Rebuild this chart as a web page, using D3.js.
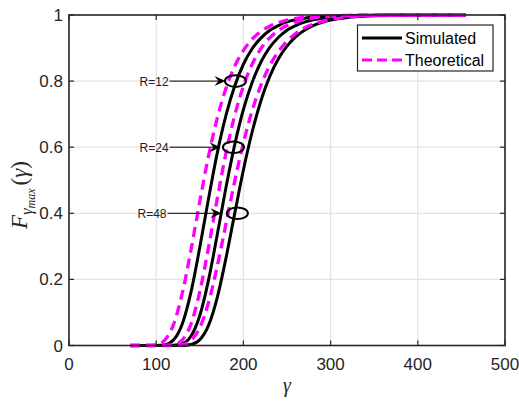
<!DOCTYPE html>
<html>
<head>
<meta charset="utf-8">
<script src="https://cdn.jsdelivr.net/npm/d3@7"></script>
<style>
  body { margin: 0; background: #fff; }
  svg { display: block; }
</style>
</head>
<body>
<div id="chart"></div>
<script>
let width = 519;
let height = 404;

// gamma grid shared by all curves
let gamma = [70, 80, 90, 100, 110, 120, 130, 140, 150, 160, 170, 180, 190, 200, 210, 220, 230, 240,
  250, 260, 270, 280, 300, 320, 340, 370, 400, 430, 455];

// CDF values
let sim12 = [0, 0, 0, 0.0001, 0.0023, 0.0171, 0.066, 0.163, 0.297, 0.444, 0.582, 0.696, 0.785, 0.851,
  0.898, 0.930, 0.953, 0.968, 0.979, 0.9857, 0.9904, 0.9936, 0.9971, 0.9987, 0.9994, 0.9998, 1, 1, 1];
let theo12 = [0, 0, 0.0001, 0.0023, 0.0169, 0.0646, 0.159, 0.291, 0.436, 0.573, 0.688, 0.778, 0.845, 0.893,
  0.927, 0.950, 0.966, 0.977, 0.9847, 0.9897, 0.9931, 0.9953, 0.9979, 0.9991, 0.9996, 0.9999, 1, 1, 1];
let sim24 = [0, 0, 0, 0, 0, 0.0004, 0.0052, 0.0287, 0.0909, 0.198, 0.335, 0.478, 0.607, 0.714,
  0.796, 0.857, 0.901, 0.932, 0.954, 0.968, 0.9785, 0.9855, 0.9933, 0.997, 0.9986, 0.9996, 0.9999, 1, 1];
let theo24 = [0, 0, 0, 0, 0.0001, 0.0023, 0.0171, 0.066, 0.163, 0.297, 0.444, 0.582, 0.696, 0.785,
  0.851, 0.898, 0.930, 0.953, 0.968, 0.979, 0.9857, 0.9904, 0.9957, 0.9981, 0.9992, 0.9998, 1, 1, 1];
let sim48 = [0, 0, 0, 0, 0, 0, 0.0002, 0.0028, 0.0172, 0.0608, 0.145, 0.264, 0.399, 0.531,
  0.646, 0.740, 0.813, 0.867, 0.906, 0.934, 0.954, 0.968, 0.9847, 0.9927, 0.9965, 0.9989, 0.9996, 0.9999, 1];
let theo48 = [0, 0, 0, 0, 0, 0.0002, 0.0026, 0.0154, 0.054, 0.130, 0.240, 0.368, 0.497, 0.613,
  0.710, 0.787, 0.846, 0.889, 0.921, 0.944, 0.961, 0.972, 0.9863, 0.9933, 0.9967, 0.9989, 0.9996, 0.9999, 1];

let xTicks = [0, 100, 200, 300, 400, 500];
let yTicks = [0, 0.2, 0.4, 0.6, 0.8, 1];
let legendLabels = ["Simulated", "Theoretical"];

// annotation labels: text, value level, text end, arrow tip, ellipse centre (gamma units)
let notes = [
  { label: "R=12", level: 0.8, from: 115.4, tip: 179.4, ring: 190.9 },
  { label: "R=24", level: 0.6, from: 115.4, tip: 173.7, ring: 188.6 },
  { label: "R=48", level: 0.4, from: 113.0, tip: 174.9, ring: 193.1 }
];

let margin = { left: 69, right: 14, top: 15, bottom: 58.5 };
let axisColor = "#262626";

let svg = d3.select("#chart")
  .append("svg")
  .attr("width", width)
  .attr("height", height);

let x = d3.scaleLinear().domain([0, 500]).range([margin.left, width - margin.right]);
let y = d3.scaleLinear().domain([0, 1]).range([height - margin.bottom, margin.top]);

// grid
let grid = svg.append("g").attr("stroke", "#e3e3e3").attr("stroke-width", 1.2);
grid.selectAll(".gx").data(xTicks).enter().append("line")
  .attr("x1", d => x(d)).attr("x2", d => x(d))
  .attr("y1", y(0)).attr("y2", y(1));
grid.selectAll(".gy").data(yTicks).enter().append("line")
  .attr("x1", x(0)).attr("x2", x(500))
  .attr("y1", d => y(d)).attr("y2", d => y(d));

// curves
let line = d3.line()
  .x(d => x(d[0]))
  .y(d => y(d[1]))
  .curve(d3.curveMonotoneX);

let series = [
  { vals: sim12, dash: null }, { vals: sim24, dash: null }, { vals: sim48, dash: null },
  { vals: theo12, dash: "10,6" }, { vals: theo24, dash: "10,6" }, { vals: theo48, dash: "10,6" }
];
series.forEach(function(s) {
  svg.append("path")
    .datum(gamma.map((g, i) => [g, s.vals[i]]))
    .attr("fill", "none")
    .attr("stroke", s.dash ? "#ff00ff" : "#000")
    .attr("stroke-width", s.dash ? 3.3 : 3)
    .attr("stroke-dasharray", s.dash)
    .attr("d", line);
});

// axes box
let tickLen = 5;
let axes = svg.append("g").attr("font-family", "'Liberation Sans', Arial, sans-serif")
  .attr("font-size", 17).attr("fill", axisColor);
axes.append("rect")
  .attr("x", x(0)).attr("y", y(1))
  .attr("width", x(500) - x(0)).attr("height", y(0) - y(1))
  .attr("fill", "none").attr("stroke", axisColor).attr("stroke-width", 1.6);

xTicks.forEach(function(t) {
  axes.append("line").attr("x1", x(t)).attr("x2", x(t)).attr("y1", y(0)).attr("y2", y(0) - tickLen)
    .attr("stroke", axisColor).attr("stroke-width", 1.2);
  axes.append("line").attr("x1", x(t)).attr("x2", x(t)).attr("y1", y(1)).attr("y2", y(1) + tickLen)
    .attr("stroke", axisColor).attr("stroke-width", 1.2);
  axes.append("text").attr("x", x(t)).attr("y", y(0) + 24)
    .attr("text-anchor", "middle").text(t);
});
yTicks.forEach(function(t) {
  axes.append("line").attr("x1", x(0)).attr("x2", x(0) + tickLen).attr("y1", y(t)).attr("y2", y(t))
    .attr("stroke", axisColor).attr("stroke-width", 1.2);
  axes.append("line").attr("x1", x(500)).attr("x2", x(500) - tickLen).attr("y1", y(t)).attr("y2", y(t))
    .attr("stroke", axisColor).attr("stroke-width", 1.2);
  axes.append("text").attr("x", x(0) - 6).attr("y", y(t) + 6)
    .attr("text-anchor", "end").text(d3.format("~g")(t));
});

// axis labels
let serif = "'Liberation Serif', 'DejaVu Serif', serif";
svg.append("text")
  .attr("x", (x(0) + x(500)) / 2).attr("y", 392)
  .attr("text-anchor", "middle")
  .attr("font-family", serif).attr("font-style", "italic").attr("font-size", 20)
  .attr("fill", axisColor)
  .text("γ");

let ylab = svg.append("text")
  .attr("transform", "translate(27," + 195 + ") rotate(-90)")
  .attr("text-anchor", "middle")
  .attr("font-family", serif).attr("font-style", "italic").attr("font-size", 23)
  .attr("fill", axisColor);
ylab.append("tspan").text("F");
ylab.append("tspan").attr("font-size", 16).attr("dy", 5).text("γ");
ylab.append("tspan").attr("font-size", 12).attr("dy", 3).text("max");
ylab.append("tspan").attr("dy", -8).attr("font-style", "normal").attr("dx", 3).text("(");
ylab.append("tspan").text("γ");
ylab.append("tspan").attr("font-style", "normal").text(")");

// annotations
let ann = svg.append("g");
notes.forEach(function(n) {
  let yy = y(n.level);
  ann.append("text")
    .attr("x", x(n.from) - 1).attr("y", yy + 4.5)
    .attr("text-anchor", "end")
    .attr("font-family", "'Liberation Sans', Arial, sans-serif").attr("font-size", 12)
    .attr("fill", "#222")
    .text(n.label);
  ann.append("line")
    .attr("x1", x(n.from)).attr("x2", x(n.tip) - 4)
    .attr("y1", yy).attr("y2", yy)
    .attr("stroke", "#000").attr("stroke-width", 1);
  let tx = x(n.tip);
  ann.append("path")
    .attr("d", "M" + tx + "," + yy + " L" + (tx - 11) + "," + (yy - 5) + " L" + (tx - 7) + "," + yy +
      " L" + (tx - 11) + "," + (yy + 5) + " Z")
    .attr("fill", "#000");
  ann.append("ellipse")
    .attr("cx", x(n.ring)).attr("cy", yy)
    .attr("rx", 10.5).attr("ry", 5.8)
    .attr("fill", "none").attr("stroke", "#000").attr("stroke-width", 2);
});

// legend
let lg = svg.append("g");
lg.append("rect")
  .attr("x", 357.5).attr("y", 25).attr("width", 135.5).attr("height", 46)
  .attr("fill", "#fff").attr("stroke", axisColor).attr("stroke-width", 1.2);
legendLabels.forEach(function(lab, i) {
  let ly = 38 + i * 22;
  lg.append("line")
    .attr("x1", 362).attr("x2", 402).attr("y1", ly).attr("y2", ly)
    .attr("stroke", i === 0 ? "#000" : "#ff00ff").attr("stroke-width", 3)
    .attr("stroke-dasharray", i === 0 ? null : "10,5");
  lg.append("text")
    .attr("x", 405).attr("y", ly + 5.5)
    .attr("font-family", "'Liberation Sans', Arial, sans-serif").attr("font-size", 16)
    .attr("fill", "#000")
    .text(lab);
});
</script>
</body>
</html>
